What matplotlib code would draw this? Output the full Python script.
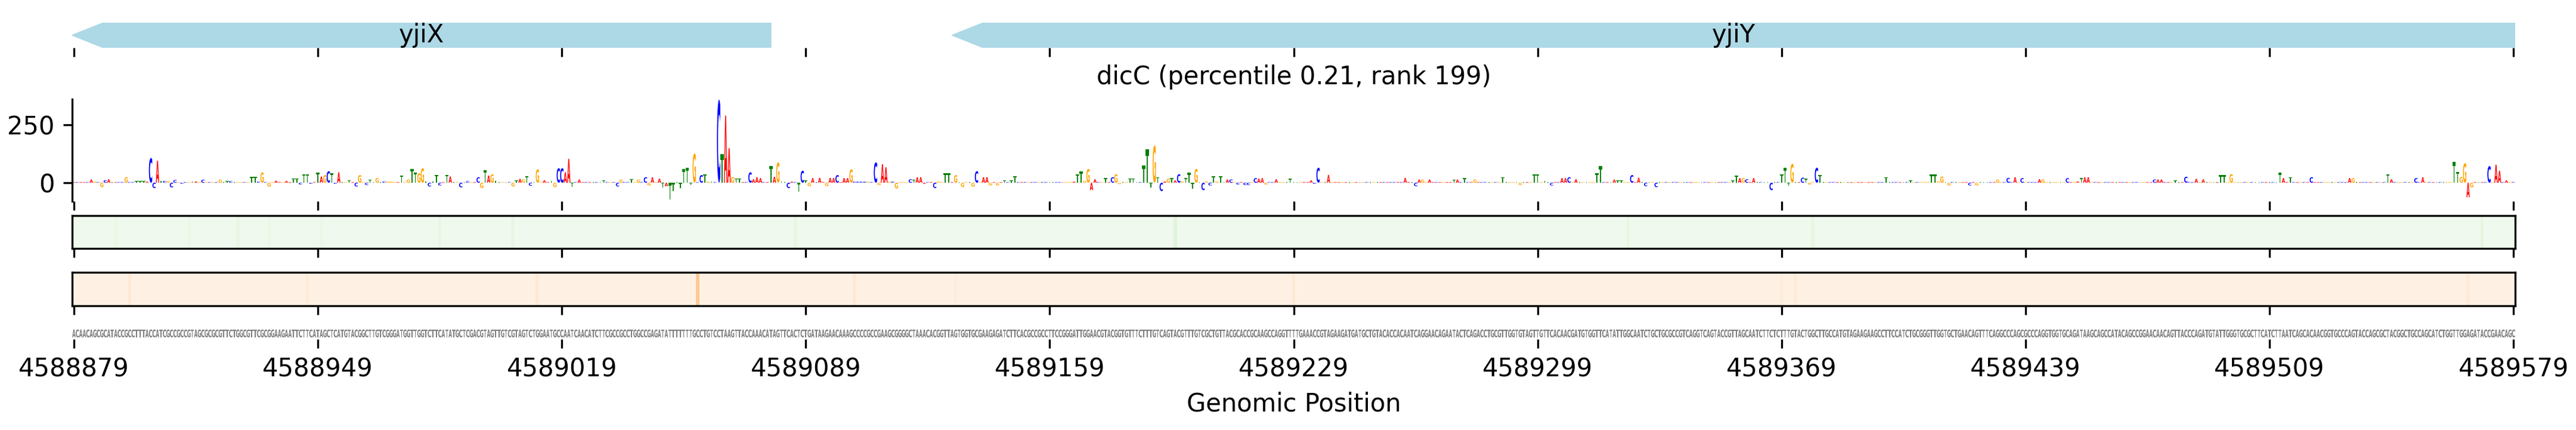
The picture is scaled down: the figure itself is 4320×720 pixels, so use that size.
import matplotlib
matplotlib.use("Agg")
import matplotlib.pyplot as plt
import numpy as np
from matplotlib.textpath import TextPath
from matplotlib.patches import PathPatch, Polygon
from matplotlib.font_manager import FontProperties
import matplotlib.transforms as mtransforms

# ---------------- data ----------------
region_start = 4588879
region_end = 4589579
title_text = "dicC (percentile 0.21, rank 199)"
xlabel_text = "Genomic Position"

seq_chunks = [
    "ACAACAGCGCATACCGCCTTTACCATCGCCGCCGTAGCGCGCGTTCTGGCGTTCGCGGAAGAATTCTTCATAGCTCATGTACGGCTT",
    "GTCGGGATGGTTGGTCTTCATATGCTCGACGTAGTTGTCGTAGTCTGGAATGCCAATCAACATCTTCGCCGCCTGGCCGAGATATTTT",
    "TTTGCCTGTCCTAAGTTACCAAACATAGTTCACTCTGATAAGAACAAAGCCCCGCCGAAGCGGGGCTAAACACGGTTAGTGGTGCGA",
    "AGAGATCTTCACGCCGCCTTCCGGGATTGGAACGTACGGTGTTTCTTTGTCAGTACGTTTGTCGCTGTTACGCACCGCAAGCCAGGT",
    "TTTGAAACCGTAGAAGATGATGCTGTACACCACAATCAGGAACAGAATACTCAGACCTGCGTTGGTGTAGTTGTTCACAACGATGTG",
    "GTTCATATTGGCAATCTGCTGCGCCGTCAGGTCAGTACCGTTAGCAATCTTCTCTTTGTACTGGCTTGCCATGTAGAAGAAGCCTTCC",
    "ATCTGCGGGTTGGTGCTGAACAGTTTCAGGCCCAGCGCCCAGGTGGTGCAGATAAGCAGCCATACAGCCGGAACAACAGTTACCCAG",
    "ATGTATTGGGTGCGCTTCATCTTAATCAGCACAACGGTGCCCAGTACCAGCGCTACGGCTGCCAGCATCTGGTTGGAGATACCGAACAG",
    "C",
]

# contribution heights of notable positions (offset from region start -> value)
logo_heights = {
    5: 14, 6: 5, 8: -19, 9: 11, 10: 15, 15: 24, 18: 7, 19: 7, 20: 7, 21: 5,
    22: 107, 23: -23, 24: 95, 25: 8, 26: 8, 27: 8, 28: -20, 29: 12, 31: -5,
    34: 6, 35: 6, 37: 13, 42: 14, 44: 7, 45: 7, 51: 26, 52: 26, 53: 5, 54: 45,
    56: -17, 58: 9, 61: 8, 63: 18, 64: 18, 65: -8, 66: 37, 67: 37, 68: -5,
    70: 45, 71: 27, 72: 33, 73: 50, 74: 41, 75: -5, 76: 45, 79: 10, 81: -16,
    82: 33, 84: -10, 85: 12,
    87: 20, 89: 6, 90: 6, 91: 6, 94: 31, 96: 14, 97: 60, 98: 45, 99: 41,
    100: 63, 101: 6, 102: -16, 103: 6, 104: 34, 105: -12, 107: 34, 108: 27,
    111: -20, 113: 7, 116: 24, 117: -23, 118: 54, 119: 31, 120: 37, 121: 8,
    126: -16, 127: 9, 128: 17, 129: 15, 130: 28, 131: -13, 133: 58, 135: 11,
    137: 8, 138: -19, 139: 63, 140: 63, 141: 45, 142: 103, 143: -17, 145: 14,
    152: 11, 156: -16, 157: 14, 160: 15, 162: 14, 164: 24, 165: -12, 166: 24,
    168: 18, 169: -20, 170: -15, 171: -72, 172: -36,
    174: -23, 175: 58, 176: 64, 177: -10, 178: 127, 180: 33, 181: 37, 182: 5,
    183: 5, 185: 359, 186: 123, 187: 290, 188: 149, 189: 24, 190: 18, 191: 18,
    194: 45, 195: 15, 196: 24, 197: 20, 200: 73, 201: 26, 202: 88, 203: 6,
    205: -23, 206: 5, 208: -38, 209: 52, 210: 11, 211: -15, 212: 20, 214: 21,
    216: -15, 217: 21, 218: 21, 219: 33, 221: 20, 222: 20, 223: 58, 224: 5,
    225: 5, 226: 5, 227: 5, 228: 5, 230: 88, 231: -10, 232: 80, 233: 67,
    234: 5, 235: 5, 236: -25, 240: 15, 241: 12, 242: 24, 243: 24, 244: -5,
    247: -23, 248: 6, 250: 41, 251: 41, 253: 33, 255: -19, 258: -17, 259: 50,
    261: 24, 262: 24, 263: -12, 265: -12, 267: 11, 269: 10, 270: 28, 287: 5,
    288: 37, 289: 48, 290: 8, 291: 60, 292: -32, 293: 15, 296: 20, 298: 24,
    299: 37, 300: -6, 303: 18, 304: 18, 307: 75, 308: 144, 309: -20, 310: 161,
    311: 24, 312: -36, 313: 6, 314: 18, 315: 20, 316: 10, 317: 37, 318: 6,
    319: 20, 320: 43, 321: -27, 322: 60, 324: -32, 325: 6, 326: -12, 327: 28,
    328: 6, 329: 28, 331: 14, 332: 14, 334: -8, 336: -10, 337: -10, 339: 20,
    340: 18, 341: 20, 342: -8, 345: 15,
    349: 17, 355: 10, 356: -5, 357: 65, 360: 34, 382: 21, 385: -15, 386: 14,
    387: 14, 389: 14, 396: 14, 397: 14, 399: 20, 402: 14, 410: 24, 415: -10,
    419: 37, 420: 37, 422: 8, 424: -12, 427: 20, 428: 20, 429: 24, 431: 15,
    437: 41, 438: 71, 442: 14, 443: 10, 444: 10, 447: 33, 449: 22, 451: -15,
    454: -19, 476: 10, 477: 31, 478: 20, 479: 20, 480: 15, 482: 20, 487: -32,
    490: 37, 491: 65, 492: -12, 493: 82, 496: 22, 497: 17, 498: -8, 500: 65,
    501: 34, 520: 24,
    527: 10, 533: 35, 534: 35, 535: 6, 536: 27, 538: -12, 544: -12, 546: -12,
    552: 14, 555: 21, 557: 24, 559: 20, 564: 15, 565: 15, 572: 20, 575: 6,
    576: 20, 577: 24, 578: 24, 597: 14, 598: 14, 599: 14, 603: 10, 606: 26,
    609: 17,
    611: 15, 616: 33, 617: 33, 619: 37, 633: 43, 634: 20, 636: 24, 642: 24,
    653: 20, 654: 20, 664: 37, 665: 15, 672: 20, 674: 24, 683: 90, 684: 47,
    685: 25, 686: 85, 687: -63, 688: -20, 693: 72, 695: 78, 696: 52, 698: 10,
}
logo_default_height = 3

# heatmap tracks (offset -> value on 0..1 colour scale)
green_base = 0.05
green_values = {12: 0.08, 33: 0.08, 47: 0.09, 56: 0.08, 71: 0.08, 105: 0.1,
                126: 0.1, 207: 0.09, 316: 0.14, 446: 0.1, 499: 0.1, 691: 0.12}
orange_base = 0.03
orange_values = {16: 0.1, 67: 0.08, 133: 0.1, 179: 0.28, 224: 0.1, 253: 0.07,
                 350: 0.1, 490: 0.07, 494: 0.08, 687: 0.1}

gene_names = ["yjiX", "yjiY"]
gene_left = [4588878.5, 4589131.0]
gene_right = [4589079.0, 4589579.5]
gene_strand = ["-", "-"]

base_colors = {"A": "#ff0000", "C": "#0000ff", "G": "#ffa500", "T": "#008000"}

# ---------------- helpers ----------------
seq = "".join(seq_chunks)
n = region_end - region_start + 1
positions = np.arange(region_start, region_start + n)
xlim = (region_start - 0.5, region_end + 0.5)
tick_pos = list(range(region_start, region_end + 1, 70))

fp_bold = FontProperties(family="DejaVu Sans", weight="bold")
_cache = {}


def glyph(ax, ch, x, y0, y1, width, color, fp):
    key = (ch, fp.get_weight())
    if key not in _cache:
        p = TextPath((0, 0), ch, size=1, prop=fp)
        _cache[key] = (p, p.get_extents())
    p, ext = _cache[key]
    if y1 - y0 <= 0:
        return
    t = (mtransforms.Affine2D()
         .translate(-ext.x0, -ext.y0)
         .scale(width / ext.width, (y1 - y0) / ext.height)
         .translate(x - width / 2.0, y0))
    ax.add_patch(PathPatch(t.transform_path(p), facecolor=color,
                           edgecolor="none", linewidth=0))


# ---------------- figure ----------------
fig = plt.figure(figsize=(14.4, 2.4), dpi=300)
L, W = 121 / 4320, 4097 / 4320


def box(top_px, bot_px):
    return [L, 1 - bot_px / 720, W, (bot_px - top_px) / 720]


ax_gene = fig.add_axes(box(38, 80))
ax_logo = fig.add_axes(box(166, 337))
ax_g = fig.add_axes(box(360.7, 416.3))
ax_o = fig.add_axes(box(456.3, 512.2))
ax_seq = fig.add_axes(box(551, 568))

for ax in (ax_gene, ax_logo, ax_g, ax_o, ax_seq):
    ax.set_xlim(*xlim)
    ax.set_xticks(tick_pos)
    ax.tick_params(axis="x", labelbottom=False)

# gene track
ax_gene.set_ylim(0, 1)
head = 9.0
for name, gl, gr, st in zip(gene_names, gene_left, gene_right, gene_strand):
    if st == "-":
        pts = [(gl, 0.5), (gl + head, 1), (gr, 1), (gr, 0), (gl + head, 0)]
    else:
        pts = [(gr, 0.5), (gr - head, 1), (gl, 1), (gl, 0), (gr - head, 0)]
    ax_gene.add_patch(Polygon(pts, closed=True, facecolor="lightblue",
                              edgecolor="lightblue", linewidth=0.4,
                              joinstyle="round"))
    ax_gene.text((gl + gr) / 2, 0.5, name, ha="center", va="center",
                 fontsize=10)
for s in ax_gene.spines.values():
    s.set_visible(False)
ax_gene.set_yticks([])

# logo track
for i in range(n):
    h = logo_heights.get(i, logo_default_height)
    ch = seq[i]
    if h >= 0:
        glyph(ax_logo, ch, positions[i], 0, h, 0.95, base_colors[ch], fp_bold)
    else:
        glyph(ax_logo, ch, positions[i], h, 0, 0.95, base_colors[ch], fp_bold)
ax_logo.set_ylim(-80, 361)
ax_logo.set_yticks([0, 250])
for k in ("top", "right", "bottom"):
    ax_logo.spines[k].set_visible(False)
ax_logo.set_title(title_text, fontsize=10)

# heatmaps
garr = np.full(n, green_base)
for k, v in green_values.items():
    garr[k] = v
oarr = np.full(n, orange_base)
for k, v in orange_values.items():
    oarr[k] = v
for ax, arr, cmap in ((ax_g, garr, "Greens"), (ax_o, oarr, "Oranges")):
    ax.imshow(arr[None, :], aspect="auto", cmap=cmap, vmin=0, vmax=1,
              extent=(xlim[0], xlim[1], 0, 1), interpolation="nearest")
    ax.set_xlim(*xlim)
    ax.set_ylim(0, 1)
    ax.set_yticks([])

# sequence track
ax_seq.set_ylim(0, 1)
for i in range(n):
    glyph(ax_seq, seq[i], positions[i], 0.18, 0.96, 0.95, "#7f7f7f", fp_bold)
for s in ax_seq.spines.values():
    s.set_visible(False)
ax_seq.set_yticks([])
ax_seq.tick_params(axis="x", labelbottom=True, labelsize=10)
ax_seq.set_xticklabels([str(t) for t in tick_pos])
ax_seq.set_xlabel(xlabel_text, fontsize=10)

fig.savefig("out.png", dpi=300)
